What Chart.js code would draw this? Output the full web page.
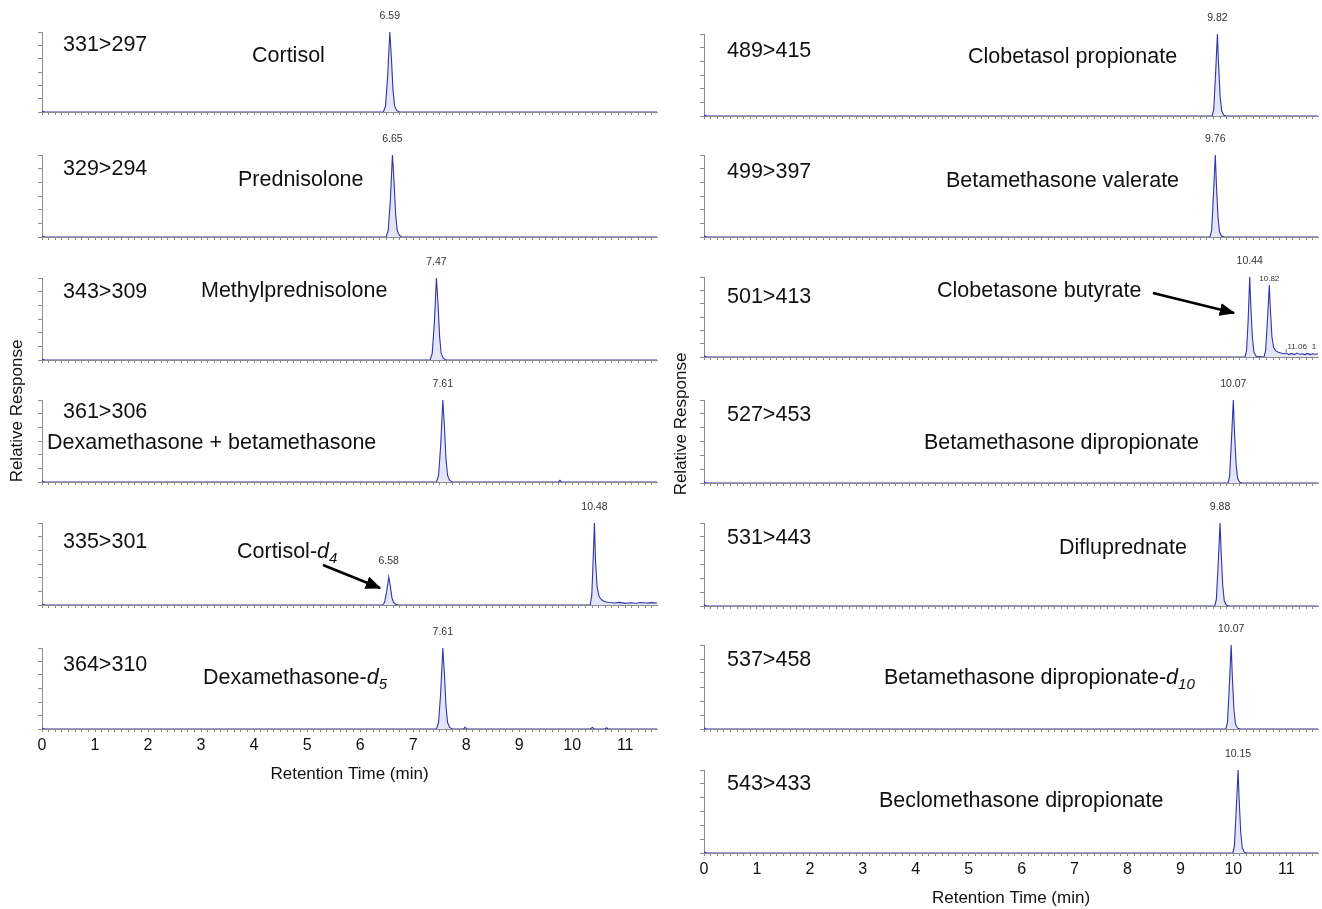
<!DOCTYPE html>
<html><head><meta charset="utf-8">
<script src="https://cdn.jsdelivr.net/npm/chart.js@4.4.1/dist/chart.umd.min.js"></script>
<style>
body{margin:0;background:#fff;width:1322px;height:909px;position:relative;overflow:hidden;font-family:"Liberation Sans",Arial,sans-serif;}
.cv{position:absolute;}
.lbl{position:absolute;font-size:21.5px;line-height:1;color:#111;white-space:nowrap;}
.lbl sub{font-size:0.7em;font-style:italic;line-height:0;vertical-align:-0.3em;}
.ax{position:absolute;width:160px;height:18px;font-size:17px;line-height:18px;text-align:center;color:#111;white-space:nowrap;transform:rotate(-90deg);z-index:6;}
svg{position:absolute;left:0;top:0;z-index:5;pointer-events:none;}
</style></head><body>
<script>
// ---------- data (retention time in min, relative response in %) ----------
const xTickLabels = ['0','1','2','3','4','5','6','7','8','9','10','11'];

// left column
const cortisol = [[0,0],[6.44,0],[6.48,8],[6.52,45],[6.56,100],[6.59,68],[6.62,28],[6.65,8],[6.69,2],[6.74,0],[11.6,0]];
const cortisolLabels = [[6.56,100,'6.59']];
const prednisolone = [[0,0],[6.49,0],[6.53,8],[6.57,45],[6.61,100],[6.64,68],[6.67,28],[6.70,8],[6.74,2],[6.79,0],[11.6,0]];
const prednisoloneLabels = [[6.61,100,'6.65']];
const methylprednisolone = [[0,0],[7.32,0],[7.36,8],[7.40,45],[7.44,100],[7.47,68],[7.50,28],[7.53,8],[7.57,2],[7.62,0],[11.6,0]];
const methylprednisoloneLabels = [[7.44,100,'7.47']];
const dexBeta = [[0,0],[7.44,0],[7.48,8],[7.52,45],[7.56,100],[7.59,68],[7.62,28],[7.65,8],[7.69,2],[7.74,0],[9.74,0],[9.77,2],[9.80,0],[11.6,0]];
const dexBetaLabels = [[7.56,100,'7.61']];
const cortisolD4 = [[0,0],[6.42,0],[6.46,3],[6.50,16],[6.54,34],[6.57,23],[6.60,9],[6.63,3],[6.67,1],[6.72,0],[10.34,0],[10.37,12],[10.40,62],[10.42,100],[10.44,55],[10.47,22],[10.51,10],[10.56,6],[10.62,4],[10.70,3],[10.80,2.5],[10.90,3.2],[11.00,2],[11.10,2.8],[11.20,2.2],[11.30,3],[11.40,2.4],[11.50,2.9],[11.60,2.5]];
const cortisolD4Labels = [[6.54,34,'6.58'],[10.42,100,'10.48']];
const dexD5 = [[0,0],[7.44,0],[7.48,8],[7.52,45],[7.56,100],[7.59,68],[7.62,28],[7.65,8],[7.69,2],[7.74,0],[7.95,0],[7.98,2],[8.01,0],[10.34,0],[10.38,2],[10.42,0],[10.62,0],[10.65,1.5],[10.68,0],[11.6,0]];
const dexD5Labels = [[7.56,100,'7.61']];

// right column
const clobetasolProp = [[0,0],[9.60,0],[9.63,8],[9.66,45],[9.70,100],[9.72,65],[9.75,25],[9.78,6],[9.82,1],[9.87,0],[11.6,0]];
const clobetasolPropLabels = [[9.70,100,'9.82']];
const betaValerate = [[0,0],[9.56,0],[9.59,8],[9.62,45],[9.66,100],[9.68,65],[9.71,25],[9.74,6],[9.78,1],[9.83,0],[11.6,0]];
const betaValerateLabels = [[9.66,100,'9.76']];
const clobetasoneBut = [[0,0],[10.22,0],[10.25,8],[10.28,45],[10.31,100],[10.33,65],[10.36,25],[10.39,6],[10.43,1],[10.58,0],[10.61,8],[10.64,40],[10.68,90],[10.70,60],[10.73,25],[10.76,12],[10.80,8],[10.85,6],[10.90,5],[10.95,4],[11.00,5],[11.05,3],[11.10,4.5],[11.15,3],[11.20,5],[11.25,3.5],[11.30,4],[11.35,3],[11.40,4.5],[11.45,3],[11.50,4],[11.55,3.5],[11.60,4]];
const clobetasoneButLabels = [[10.31,100,'10.44'],[10.68,90,'10.82'],[10.96,5,'11.06'],[11.58,4,'1']];
const betaDip = [[0,0],[9.90,0],[9.93,8],[9.96,45],[10.00,100],[10.02,65],[10.05,25],[10.08,6],[10.12,1],[10.17,0],[11.6,0]];
const betaDipLabels = [[10.00,100,'10.07']];
const diflupred = [[0,0],[9.65,0],[9.68,8],[9.71,45],[9.75,100],[9.77,65],[9.80,25],[9.83,6],[9.87,1],[9.92,0],[11.6,0]];
const diflupredLabels = [[9.75,100,'9.88']];
const betaDipD10 = [[0,0],[9.86,0],[9.89,8],[9.92,45],[9.96,100],[9.98,65],[10.01,25],[10.04,6],[10.08,1],[10.13,0],[11.6,0]];
const betaDipD10Labels = [[9.96,100,'10.07']];
const beclo = [[0,0],[9.99,0],[10.02,8],[10.05,45],[10.09,100],[10.11,65],[10.14,25],[10.17,6],[10.21,1],[10.26,0],[11.6,0]];
const becloLabels = [[10.09,100,'10.15']];

// ---------- layout ----------
const FONT = '"Liberation Sans", Arial, sans-serif';
const panels = [
  {col:'L', top:32,  bottom:112, data:cortisol, labels:cortisolLabels},
  {col:'L', top:155, bottom:237, data:prednisolone, labels:prednisoloneLabels},
  {col:'L', top:278, bottom:360, data:methylprednisolone, labels:methylprednisoloneLabels},
  {col:'L', top:400, bottom:482, data:dexBeta, labels:dexBetaLabels},
  {col:'L', top:523, bottom:605, data:cortisolD4, labels:cortisolD4Labels},
  {col:'L', top:648, bottom:729, data:dexD5, labels:dexD5Labels, last:true},
  {col:'R', top:34,  bottom:116, data:clobetasolProp, labels:clobetasolPropLabels},
  {col:'R', top:155, bottom:237, data:betaValerate, labels:betaValerateLabels},
  {col:'R', top:277, bottom:357, data:clobetasoneBut, labels:clobetasoneButLabels,
     labelStyle:[{}, {size:8,dy:6}, {size:8,dx:13,dy:6,leader:true}, {size:8,dx:-3,dy:7}]},
  {col:'R', top:400, bottom:483, data:betaDip, labels:betaDipLabels},
  {col:'R', top:523, bottom:606, data:diflupred, labels:diflupredLabels},
  {col:'R', top:645, bottom:729, data:betaDipD10, labels:betaDipD10Labels},
  {col:'R', top:770, bottom:853, data:beclo, labels:becloLabels, last:true}
];

const peakLabelPlugin = {
  id:'peakLabels',
  afterDatasetsDraw(chart, args, opts){
    const {ctx, scales:{x, y}} = chart;
    const items = opts.items || [], styles = opts.styles || [];
    items.forEach((it, i) => {
      const st = styles[i] || {};
      const px = x.getPixelForValue(it[0]), py = y.getPixelForValue(it[1]);
      const size = st.size || 10.5;
      const tx = px + (st.dx || 0), ty = py - (st.dy || 16);
      ctx.save();
      ctx.font = size + 'px ' + FONT;
      ctx.fillStyle = '#333';
      ctx.textAlign = 'center';
      ctx.textBaseline = 'middle';
      if (st.leader) {
        const w = ctx.measureText(it[2]).width;
        ctx.strokeStyle = '#555'; ctx.lineWidth = 0.8;
        ctx.beginPath(); ctx.moveTo(px + 2, py - 1); ctx.lineTo(tx - w/2 - 1, ty + 2); ctx.stroke();
      }
      ctx.fillText(it[2], tx, ty);
      ctx.restore();
    });
  }
};

function makeChart(p){
  const cv = document.createElement('canvas');
  const colLeft = p.col === 'L' ? 0 : 662;
  const colW = p.col === 'L' ? 662 : 660;
  const padTop = 30;
  const xH = p.last ? 56 : 6;
  const h = padTop + (p.bottom - p.top) + xH;
  cv.width = colW; cv.height = h;
  cv.className = 'cv';
  cv.style.left = colLeft + 'px';
  cv.style.top = (p.top - padTop) + 'px';
  cv.style.width = colW + 'px'; cv.style.height = h + 'px';
  document.body.appendChild(cv);
  new Chart(cv, {
    type:'line',
    data:{datasets:[{
      data:p.data.map(([x, y]) => ({x, y})),
      borderColor:'#3434a8', borderWidth:1.1,
      fill:'origin', backgroundColor:'rgba(150,150,215,0.25)',
      tension:0,
      pointStyle:'triangle', rotation:90,
      pointRadius:ctx => ctx.dataIndex === 0 ? 3 : 0,
      pointBackgroundColor:'#3434c8', pointBorderWidth:0
    }]},
    options:{
      responsive:false, animation:false, devicePixelRatio:1,
      events:[],
      layout:{padding:{top:padTop, right:(p.col === 'L' ? 5 : 2), left:0, bottom:0}},
      plugins:{legend:{display:false}, tooltip:{enabled:false},
        peakLabels:{items:p.labels, styles:p.labelStyle || []}},
      scales:{
        x:{type:'linear', min:0, max:11.6,
          afterFit:s => { s.height = xH; },
          afterBuildTicks:s => { const t = []; for (let v = 0; v <= 11.6 + 1e-9; v += 0.125) t.push({value:v}); s.ticks = t; },
          ticks:{display:!!p.last, autoSkip:false, maxRotation:0, padding:4, color:'#111',
            font:{size:16, family:FONT},
            callback:v => Number.isInteger(v) ? (xTickLabels[v] || '') : ''},
          grid:{drawOnChartArea:false, tickLength:3, color:'#8c8c8c', lineWidth:1},
          border:{color:'#8c8c8c', width:1},
          title:{display:!!p.last, text:'Retention Time (min)', color:'#111',
            font:{size:17, family:FONT}, padding:{top:0, bottom:0}}
        },
        y:{type:'linear', min:0, max:100,
          afterFit:s => { s.width = 42; },
          afterBuildTicks:s => { const t = []; for (let k = 0; k <= 6; k++) t.push({value:k * 100 / 6}); s.ticks = t; },
          ticks:{display:false},
          grid:{drawOnChartArea:false, tickLength:4, color:'#8c8c8c'},
          border:{color:'#8c8c8c', width:1}
        }
      }
    },
    plugins:[peakLabelPlugin]
  });
}
panels.forEach(makeChart);

// ---------- text annotations ----------
const texts = [
  ['331&gt;297', 63, 44], ['Cortisol', 252, 55],
  ['329&gt;294', 63, 168], ['Prednisolone', 238, 179],
  ['343&gt;309', 63, 291], ['Methylprednisolone', 201, 290],
  ['361&gt;306', 63, 411], ['Dexamethasone + betamethasone', 47, 442],
  ['335&gt;301', 63, 541], ['Cortisol-<i>d</i><sub>4</sub>', 237, 551],
  ['364&gt;310', 63, 664], ['Dexamethasone-<i>d</i><sub>5</sub>', 203, 677],
  ['489&gt;415', 727, 50], ['Clobetasol propionate', 968, 56],
  ['499&gt;397', 727, 171], ['Betamethasone valerate', 946, 180],
  ['501&gt;413', 727, 296], ['Clobetasone butyrate', 937, 290],
  ['527&gt;453', 727, 414], ['Betamethasone dipropionate', 924, 442],
  ['531&gt;443', 727, 537], ['Difluprednate', 1059, 547],
  ['537&gt;458', 727, 659], ['Betamethasone dipropionate-<i>d</i><sub>10</sub>', 884, 677],
  ['543&gt;433', 727, 783], ['Beclomethasone dipropionate', 879, 800]
];
texts.forEach(([html, x, cy]) => {
  const d = document.createElement('div');
  d.className = 'lbl'; d.innerHTML = html;
  d.style.left = x + 'px'; d.style.top = (cy - 10.5) + 'px';
  document.body.appendChild(d);
});
[[17, 411], [681, 424]].forEach(([x, y]) => {
  const d = document.createElement('div');
  d.className = 'ax'; d.textContent = 'Relative Response';
  d.style.left = (x - 80) + 'px'; d.style.top = (y - 9) + 'px';
  document.body.appendChild(d);
});

// arrows
const svgNS = 'http://www.w3.org/2000/svg';
const svg = document.createElementNS(svgNS, 'svg');
svg.setAttribute('width', 1322); svg.setAttribute('height', 909);
svg.innerHTML = '<defs><marker id="ah" markerWidth="6" markerHeight="5" refX="5.5" refY="2.5" orient="auto" markerUnits="strokeWidth"><path d="M0,0 L6,2.5 L0,5 Z" fill="#000"/></marker></defs>' +
  '<line x1="323" y1="565" x2="380" y2="588" stroke="#000" stroke-width="2.6" marker-end="url(#ah)"/>' +
  '<line x1="1153" y1="293" x2="1234" y2="313" stroke="#000" stroke-width="2.6" marker-end="url(#ah)"/>';
document.body.appendChild(svg);
</script>
</body></html>
